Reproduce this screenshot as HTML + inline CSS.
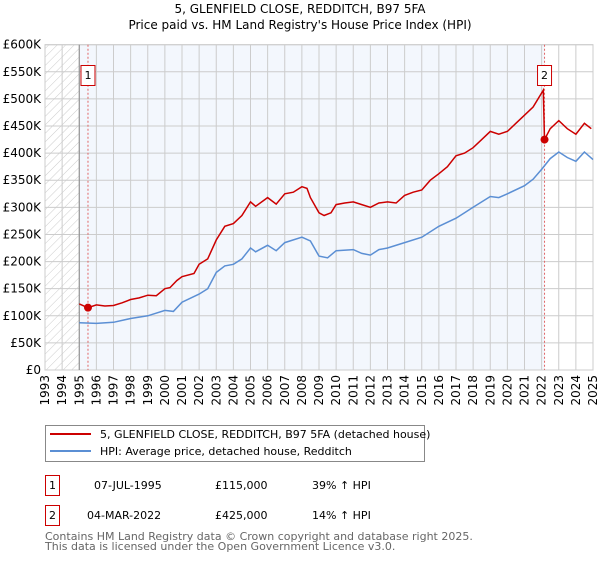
<!DOCTYPE html>
<html><head><meta charset="utf-8"><style>
body{margin:0;background:#fff;width:600px;height:560px;overflow:hidden;font-family:"DejaVu Sans","Liberation Sans",sans-serif}
svg text{font-family:"DejaVu Sans","Liberation Sans",sans-serif}
</style></head><body>
<svg id="chart" width="600" height="560" xmlns="http://www.w3.org/2000/svg">
<defs><pattern id="hatch" patternUnits="userSpaceOnUse" width="6" height="6" patternTransform="rotate(45)"><line x1="0" y1="0" x2="0" y2="6" stroke="#ccc" stroke-width="1"/></pattern></defs>
<text x="300" y="13" text-anchor="middle" font-size="12">5, GLENFIELD CLOSE, REDDITCH, B97 5FA</text>
<text x="300" y="29" text-anchor="middle" font-size="12">Price paid vs. HM Land Registry's House Price Index (HPI)</text>
<g id="plot"></g>
<rect x="45.5" y="425.5" width="379" height="36" fill="#fff" stroke="#888"/>
<line x1="50" y1="434" x2="91" y2="434" stroke="#cc0000" stroke-width="2"/>
<text x="100" y="438" font-size="11">5, GLENFIELD CLOSE, REDDITCH, B97 5FA (detached house)</text>
<line x1="50" y1="451" x2="91" y2="451" stroke="#5b8fd4" stroke-width="2"/>
<text x="100" y="455" font-size="11">HPI: Average price, detached house, Redditch</text>
<g font-size="11">
<rect x="45.5" y="475.5" width="14" height="20" fill="#fff" stroke="#cc0000"/>
<text x="52.5" y="489" text-anchor="middle">1</text>
<text x="94" y="489">07-JUL-1995</text>
<text x="215" y="489">£115,000</text>
<text x="312" y="489">39% ↑ HPI</text></g>
<g font-size="11">
<rect x="45.5" y="505.5" width="14" height="20" fill="#fff" stroke="#cc0000"/>
<text x="52.5" y="519" text-anchor="middle">2</text>
<text x="87" y="519">04-MAR-2022</text>
<text x="215" y="519">£425,000</text>
<text x="312" y="519">14% ↑ HPI</text></g>
<text x="45" y="540" font-size="11" fill="#666">Contains HM Land Registry data © Crown copyright and database right 2025.</text>
<text x="45" y="550" font-size="11" fill="#666">This data is licensed under the Open Government Licence v3.0.</text>
</svg>
<script>
const redYears=[1995.0,1995.5,1996,1996.5,1997,1997.5,1998,1998.5,1999,1999.5,2000,2000.3,2000.7,2001,2001.7,2002,2002.5,2003,2003.5,2004,2004.5,2005,2005.3,2006,2006.5,2007,2007.5,2008,2008.3,2008.5,2009,2009.3,2009.7,2010,2010.5,2011,2011.5,2012,2012.5,2013,2013.5,2014,2014.5,2015,2015.5,2016,2016.5,2017,2017.5,2018,2018.5,2019,2019.5,2020,2020.5,2021,2021.5,2022.1,2022.17,2022.5,2023,2023.5,2024,2024.5,2024.9];
const redValues=[122,115,120,118,119,124,130,133,138,137,150,152,165,172,178,195,205,240,265,270,285,310,302,318,306,325,328,338,335,318,290,285,290,305,308,310,305,300,308,310,308,322,328,332,350,362,375,395,400,410,425,440,435,440,455,470,485,516,425,445,460,445,435,455,445];
const hpiYears=[1995,1996,1997,1998,1999,2000,2000.5,2001,2002,2002.5,2003,2003.5,2004,2004.5,2005,2005.3,2006,2006.5,2007,2008,2008.5,2009,2009.5,2010,2011,2011.5,2012,2012.5,2013,2014,2015,2016,2017,2017.5,2018,2019,2019.5,2020,2021,2021.5,2022,2022.5,2023,2023.5,2024,2024.5,2025];
const hpiValues=[87,86,88,95,100,110,108,125,140,150,180,192,195,205,225,218,230,220,235,245,238,210,207,220,222,215,212,222,225,235,245,265,280,290,300,320,318,325,340,352,370,390,402,392,385,402,388];
const saleYears=[1995.51,2022.17];
const saleValues=[115,425];
const yTicks=[0,50,100,150,200,250,300,350,400,450,500,550,600];
const yTickLabels=["£0","£50K","£100K","£150K","£200K","£250K","£300K","£350K","£400K","£450K","£500K","£550K","£600K"];
const xTicks=[1993,1994,1995,1996,1997,1998,1999,2000,2001,2002,2003,2004,2005,2006,2007,2008,2009,2010,2011,2012,2013,2014,2015,2016,2017,2018,2019,2020,2021,2022,2023,2024,2025];

const L=45,R=593,T=44.7,B=370;
const xs=y=>L+(y-1993)/32*(R-L);
const ys=v=>B-v/600*(B-T);
const NS="http://www.w3.org/2000/svg";
const g=document.getElementById('plot');
function mk(tag,attrs,parent){const e=document.createElementNS(NS,tag);for(const k in attrs)e.setAttribute(k,attrs[k]);(parent||g).appendChild(e);return e;}

const hatch=mk('rect',{x:L,y:T,width:xs(1995)-L,height:B-T,fill:'url(#hatch)'});


const shade=mk('rect',{x:xs(1995),y:T,width:xs(saleYears[1])-xs(1995),height:B-T,fill:'#eef3fc',opacity:0.7});



yTicks.forEach((v,i)=>{
  const ln=mk('line',{x1:L,x2:R,y1:ys(v),y2:ys(v),stroke:'#ccc','stroke-width':1});
  
  
  const t=mk('text',{x:L-4,y:ys(v)+4,'text-anchor':'end','font-size':12});
  t.textContent=yTickLabels[i];
  
  
});
xTicks.forEach(yr=>{
  const ln=mk('line',{x1:xs(yr),x2:xs(yr),y1:T,y2:B,stroke:'#ccc','stroke-width':1});
  
  
  const t=mk('text',{x:0,y:0,'text-anchor':'end','font-size':12,transform:`translate(${xs(yr)+4},${B+5}) rotate(-90)`});
  t.textContent=yr;
  
  
});
const fr=mk('rect',{x:L,y:T,width:R-L,height:B-T,fill:'none',stroke:'#ccc'});


const v95=mk('line',{x1:xs(1995),x2:xs(1995),y1:T,y2:B,stroke:'#888'});



saleYears.forEach((yr,i)=>{
  const d=mk('line',{x1:xs(yr),x2:xs(yr),y1:T,y2:B,stroke:'#e06666','stroke-dasharray':'2,2'});
  
  
});

function path(xa,va,color,name){
  const p=mk('path',{d:xa.map((x,i)=>(i?'L':'M')+xs(x).toFixed(1)+','+ys(va[i]).toFixed(1)).join(''),fill:'none',stroke:color,'stroke-width':1.5});
  
  
}
path(hpiYears,hpiValues,'#5b8fd4','hpi-line');
path(redYears,redValues,'#cc0000','property-line');

saleYears.forEach((yr,i)=>{
  const c=mk('circle',{cx:xs(yr),cy:ys(saleValues[i]),r:4,fill:'#cc0000'});
  
  
  const bx=xs(yr)-7;
  const r=mk('rect',{x:bx,y:65.5,width:14,height:20,fill:'#fff',stroke:'#cc0000'});
  
  
  const t=mk('text',{x:xs(yr),y:79,'text-anchor':'middle','font-size':11});
  t.textContent=String(i+1);
  
  
});
</script>
</body></html>
